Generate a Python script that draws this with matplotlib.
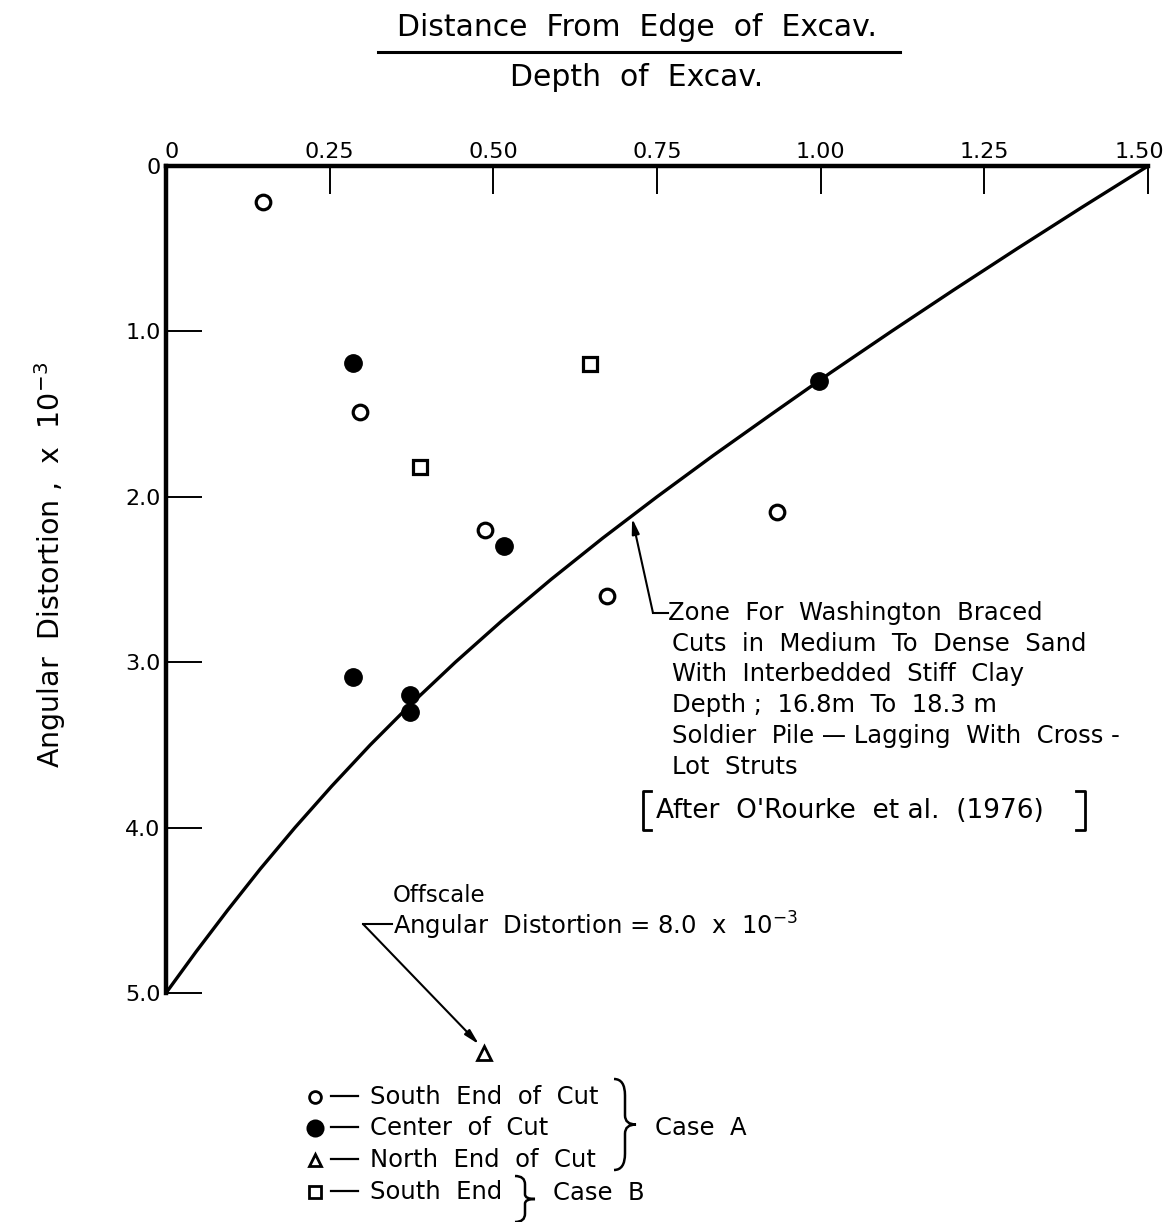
import numpy as np
import matplotlib
matplotlib.use("Agg")
import matplotlib.pyplot as plt
from matplotlib.path import Path
from matplotlib.patches import PathPatch
from matplotlib.transforms import ScaledTranslation

plt.rcParams['font.family'] = ['DejaVu Sans']

# Distance from edge / depth of excavation vs angular distortion (x 10^-3)
south_x = [0.148, 0.297, 0.488, 0.673, 0.934]
south_y = [0.22, 1.49, 2.20, 2.60, 2.09]

center_x = [0.286, 0.517, 0.998, 0.286, 0.372, 0.372]
center_y = [1.19, 2.30, 1.30, 3.09, 3.20, 3.30]

north_x = [0.486]
north_y = [5.36]   # offscale, true value 8.0

caseb_x = [0.388, 0.647]
caseb_y = [1.82, 1.20]

# boundary of the Washington braced cuts zone
zone_x = [0.0, 0.046, 0.094, 0.144, 0.197, 0.253, 0.312, 0.375, 0.442, 0.513, 0.588,
          0.667, 0.750, 0.836, 0.925, 1.015, 1.108, 1.203, 1.300, 1.399, 1.500]
zone_y = [5.0, 4.75, 4.5, 4.25, 4.0, 3.75, 3.5, 3.25, 3.0, 2.75, 2.5,
          2.25, 2.0, 1.75, 1.5, 1.25, 1.0, 0.75, 0.5, 0.25, 0.0]

x_ticks = [0, 0.25, 0.50, 0.75, 1.00, 1.25, 1.50]
x_labels = ['0', '0.25', '0.50', '0.75', '1.00', '1.25', '1.50']
y_ticks = [0, 1, 2, 3, 4, 5]
y_labels = ['0', '1.0', '2.0', '3.0', '4.0', '5.0']

W, H = 1166, 1222
fig = plt.figure(figsize=(W / 100, H / 100), dpi=100)


def fp(x, y):
    # pixel position (from top-left) -> figure fraction
    return x / W, 1 - y / H


def fline(xs, ys, lw=1.5):
    # polyline in pixel coordinates, drawn on the figure
    fig.add_artist(plt.Line2D([x / W for x in xs], [1 - y / H for y in ys],
                              color='black', lw=lw))


ax = fig.add_axes([166 / W, 1 - 993 / H, (1148 - 166) / W, (993 - 166) / H])
ax.set_xlim(0, 1.5)
ax.set_ylim(5.0, 0)

for s in ['bottom', 'right']:
    ax.spines[s].set_visible(False)
for s in ['top', 'left']:
    ax.spines[s].set_linewidth(3.2)

ax.xaxis.tick_top()
ax.set_xticks(x_ticks)
ax.set_xticklabels(x_labels)
ax.set_yticks(y_ticks)
ax.set_yticklabels(y_labels)
ax.tick_params(axis='x', direction='in', length=20, width=1.4, pad=3, labelsize=16)
ax.tick_params(axis='y', direction='in', length=26, width=1.4, pad=4, labelsize=16)
# nudge the end labels so they sit like the hand lettering
xl = ax.get_xticklabels()
xl[0].set_transform(xl[0].get_transform() + ScaledTranslation(6 / 100, 0, fig.dpi_scale_trans))
xl[-1].set_transform(xl[-1].get_transform() + ScaledTranslation(-9 / 100, 0, fig.dpi_scale_trans))

ax.plot(zone_x, zone_y, color='black', lw=2.4, solid_capstyle='round', solid_joinstyle='round')

ax.plot(south_x, south_y, 'o', ms=10.5, mfc='white', mec='black', mew=2.3)
ax.plot(center_x, center_y, 'o', ms=12.5, mfc='black', mec='black')
ax.plot(caseb_x, caseb_y, 's', ms=9.5, mfc='white', mec='black', mew=2.3)
ax.plot(north_x, north_y, '^', ms=9.5, mfc='white', mec='black', mew=2.0, clip_on=False)

# heading as a fraction
fig.text(*fp(637, 28), 'Distance  From  Edge  of  Excav.', ha='center', va='center', fontsize=21.5)
fline([378, 900], [52, 52], lw=2.2)
fig.text(*fp(637, 78), 'Depth  of  Excav.', ha='center', va='center', fontsize=21.5)

fig.text(*fp(50, 565), r'Angular  Distortion ,  x  10$^{-3}$', rotation=90,
         ha='center', va='center', fontsize=20.5)

# zone description with leader to the curve
ax.annotate('', xy=(0.712, 2.13), xycoords='data',
            xytext=fp(653, 613), textcoords='figure fraction',
            arrowprops=dict(arrowstyle='-|>,head_width=0.22,head_length=0.9',
                            color='black', lw=1.5, shrinkA=0, shrinkB=0))
fline([653, 668], [613, 613])
zone_lines = ['Zone  For  Washington  Braced',
              'Cuts  in  Medium  To  Dense  Sand',
              'With  Interbedded  Stiff  Clay',
              'Depth ;  16.8m  To  18.3 m',
              'Soldier  Pile \u2014 Lagging  With  Cross -',
              'Lot  Struts']
for i, line in enumerate(zone_lines):
    x0 = 668 if i == 0 else 672
    fig.text(*fp(x0, 613 + i * 30.7), line, ha='left', va='center', fontsize=17.5)

# source reference in square brackets
fline([651, 643, 643, 651], [791, 791, 830, 830], lw=2.0)
fig.text(*fp(656, 811), "After  O'Rourke  et al.  (1976)", ha='left', va='center', fontsize=19)
fline([1076, 1085, 1085, 1076], [791, 791, 830, 830], lw=2.0)

# offscale point note
fig.text(*fp(393, 896), 'Offscale', ha='left', va='center', fontsize=16.5)
fig.text(*fp(393, 926), r'Angular  Distortion = 8.0  x  10$^{-3}$', ha='left', va='center', fontsize=17.5)
fline([363, 392], [924, 924])
ax.annotate('', xy=(0.478, 5.31), xycoords='data',
            xytext=fp(363, 924), textcoords='figure fraction',
            arrowprops=dict(arrowstyle='-|>,head_width=0.22,head_length=0.9',
                            color='black', lw=1.5, shrinkA=0, shrinkB=0),
            annotation_clip=False)

# key
key_rows = [('o', 'white', 'South  End  of  Cut', 1097),
            ('o', 'black', 'Center  of  Cut', 1128),
            ('^', 'white', 'North  End  of  Cut', 1160),
            ('s', 'white', 'South  End', 1192)]
for m, fc, label, y in key_rows:
    ms = 11 if fc == 'black' else 8.5
    fig.add_artist(plt.Line2D([315 / W], [1 - y / H], marker=m, ms=ms, mfc=fc,
                              mec='black', mew=2.0, linestyle='none'))
    fline([331, 358], [y - 1, y - 1], lw=1.6)
    fig.text(*fp(370, y), label, ha='left', va='center', fontsize=17.5)


def brace(x, ytop, ybot, w):
    # right-pointing curly brace in pixel coordinates
    ym = (ytop + ybot) / 2
    h = ybot - ytop
    pts = [(x, ytop), (x + w / 2, ytop), (x + w / 2, ytop + 0.18 * h),
           (x + w / 2, ym - 0.1 * h),
           (x + w / 2, ym), (x + w, ym),
           (x + w / 2, ym), (x + w / 2, ym + 0.1 * h),
           (x + w / 2, ybot - 0.18 * h),
           (x + w / 2, ybot), (x, ybot)]
    codes = [Path.MOVETO, Path.CURVE3, Path.CURVE3, Path.LINETO,
             Path.CURVE3, Path.CURVE3, Path.CURVE3, Path.CURVE3,
             Path.LINETO, Path.CURVE3, Path.CURVE3]
    verts = [fp(px, py) for px, py in pts]
    fig.add_artist(PathPatch(Path(verts, codes), fill=False, lw=1.8,
                             transform=fig.transFigure))


brace(614, 1079, 1170, 22)
fig.text(*fp(655, 1128), 'Case  A', ha='left', va='center', fontsize=17.5)
brace(515, 1176, 1222, 20)
fig.text(*fp(553, 1193), 'Case  B', ha='left', va='center', fontsize=17.5)

fig.savefig('out.png', dpi=100)
